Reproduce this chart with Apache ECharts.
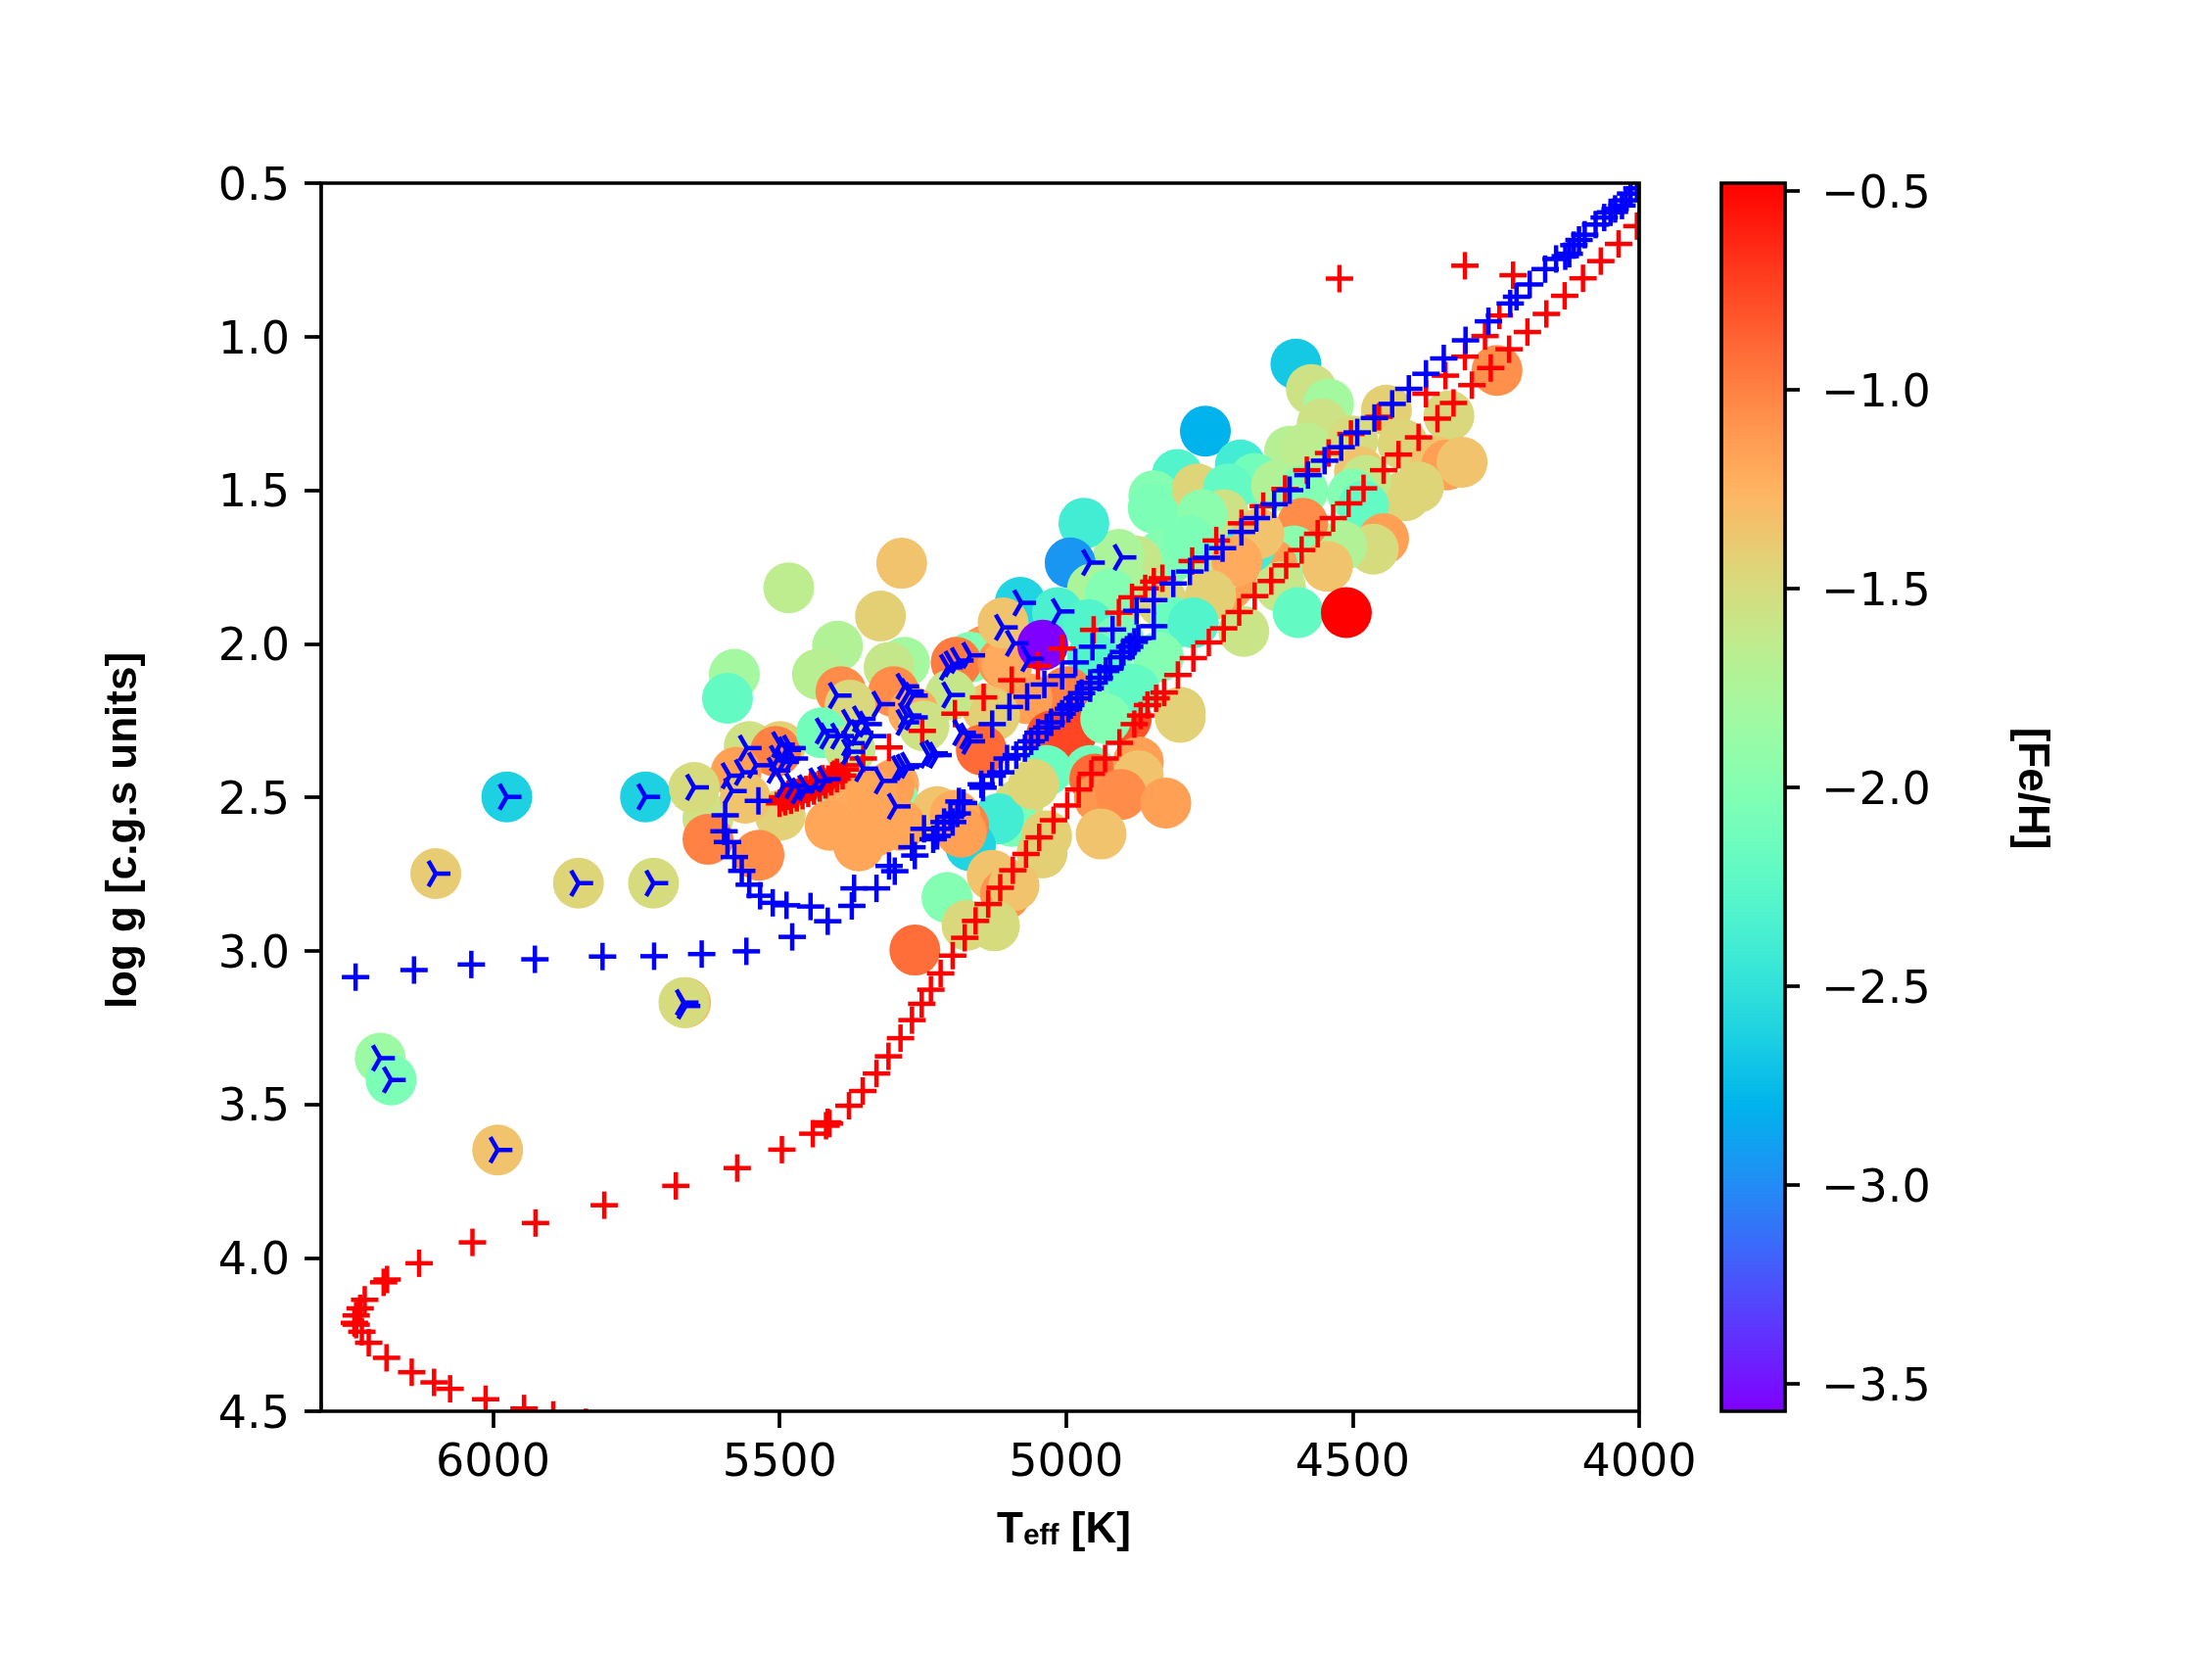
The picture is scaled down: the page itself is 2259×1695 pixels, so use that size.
<!DOCTYPE html>
<html>
<head>
<meta charset="utf-8">
<title>log g vs Teff</title>
<script src="https://cdn.jsdelivr.net/npm/echarts@6/dist/echarts.min.js"></script>
<style>
html,body{margin:0;padding:0;background:#fff;}
#chart{width:2259px;height:1695px;}
</style>
</head>
<body>
<div id="chart"></div>
<script>
// stars: Teff, log g, [Fe/H]
var starT = [4599,4572,4542,4441,4332,4248,4553,4757,4696,4806,4847,4848,4771,4610,4580,4500,4671,4717,4633,4587,4488,4412,4355,4336,4309,4385,4408,4477,4500,4481,4446,4464,4519,4587,4603,4641,4544,4626,4595,4511,4690,4717,4740,4725,4763,4679,4664,4702,4832,4816,4786,4877,4908,4969,4993,4954,4912,4900,4923,4832,4748,4809,4778,4839,4893,4931,4801,5080,5015,4961,5109,4908,4954,5106,5141,4999,5068,5137,5484,5287,5324,5399,5434,5579,5591,5282,5309,5167,5192,5110,5103,5110,5301,5393,5377,5202,5267,5248,5125,5553,5499,5507,5427,5377,5576,5650,5625,5499,5560,5625,5536,5392,5377,5301,5412,5362,5331,5301,5309,5339,5148,5026,4990,4895,4801,4881,4931,5034,4958,4950,4942,4874,4874,4904,4826,4939,5084,5095,5118,5167,5179,5225,5194,5183,5034,5042,5129,5106,5091,5208,5173,5125,5264,5289,5057,5976,5734,5649,6100,5851,5720,5664,5667,6197,6178,5992,5041];
var starG = [1.089,1.172,1.219,1.239,1.258,1.11,1.284,1.308,1.418,1.449,1.518,1.558,1.496,1.373,1.362,1.34,1.462,1.496,1.485,1.502,1.44,1.351,1.407,1.418,1.409,1.49,1.518,1.468,1.513,1.552,1.658,1.692,1.681,1.608,1.698,1.742,1.748,1.815,1.899,1.899,1.96,1.81,1.77,1.58,1.58,1.686,1.642,1.731,1.709,1.72,1.664,1.731,1.709,1.608,1.737,1.821,1.877,1.81,1.837,1.865,1.843,1.932,1.932,2.044,2.145,2.223,2.223,1.865,1.899,1.938,1.949,1.989,2.044,2.067,2.022,2.156,2.179,2.212,1.818,1.738,1.91,2.008,2.1,2.1,2.178,2.061,2.077,2.044,2.061,2.061,2.066,1.932,2.156,2.156,2.2,2.167,2.223,2.268,2.234,2.335,2.335,2.351,2.29,2.346,2.419,2.471,2.57,2.559,2.503,2.637,2.689,2.491,2.503,2.458,2.592,2.659,2.609,2.514,2.469,2.491,2.346,2.301,2.29,2.245,2.24,2.15,2.245,2.413,2.413,2.441,2.503,2.385,2.43,2.491,2.519,2.62,2.525,2.579,2.57,2.659,2.592,2.547,2.559,2.614,2.626,2.682,2.754,2.816,2.788,2.827,2.917,2.919,2.998,2.592,2.458,2.499,2.499,2.468,2.749,2.78,2.78,3.169,3.169,3.35,3.421,3.649,2.005];
var starFe = [-2.67,-1.56,-1.8,-1.42,-1.48,-1.07,-1.56,-2.8,-2.4,-2.3,-2,-2.05,-1.45,-1.7,-1.65,-1.5,-2.1,-2.2,-1.72,-2,-1.35,-1.45,-1.35,-1.15,-1.34,-1.45,-1.45,-1.6,-2,-2.2,-1.15,-1.5,-1.72,-1.05,-1.95,-1.15,-1.34,-1.6,-2.2,-0.48,-1.58,-1.15,-1.6,-1.55,-1.95,-2.4,-1.34,-1.2,-2,-2,-2.05,-1.6,-1.75,-2.4,-2.95,-1.75,-1.55,-1.75,-2,-1.45,-1.42,-2.15,-2.3,-2,-2.2,-2.05,-1.42,-2.6,-2.35,-2.3,-1.34,-2.05,-2.3,-1.25,-1.1,-1,-1.15,-1.34,-1.65,-1.34,-1.42,-1.72,-1.68,-1.8,-2.2,-1.8,-1.6,-2,-0.98,-1.1,-1.2,-1.35,-1.05,-1.05,-1.48,-1.6,-1.2,-1.55,-1.42,-1.55,-1.42,-1,-2.1,-1.6,-1.15,-1.5,-1.55,-1.43,-1.35,-1,-1.05,-2.15,-1.2,-1.2,-1.18,-1.18,-1.18,-2,-1.15,-1.18,-0.9,-0.8,-0.75,-0.8,-1.43,-2.2,-2,-2.15,-2.1,-0.9,-1.1,-1.15,-1.34,-1.05,-1.15,-1.34,-1.5,-2.05,-2.4,-2.6,-1,-1.34,-1.2,-1.15,-1.42,-1.42,-1.34,-1.1,-1.34,-2,-1.48,-1.5,-0.92,-1.18,-1.45,-2.62,-2.62,-1.5,-1.4,-1.45,-1.5,-1.3,-1.5,-1.85,-2.05,-1.34,-3.57];

// red isochrone
var redT = [5838,5895,5946,6013,6075,6103,6142,6186,6217,6229,6239,6242,6239,6232,6224,6191,6185,6129,6036,5926,5806,5681,5574,5496,5442,5419,5413,5416,5379,5355,5331,5310,5289,5269,5252,5236,5219,5198,5177,5158,5136,5115,5093,5070,5047,5022,4998,4978,4956,4932,4907,4881,4870,4858,4843,4829,4805,4778,4751,4725,4698,4671,4642,4616,4589,4561,4534,4507,4481,4446,4420,4385,4352,4324,4292,4259,4227,4195,4162,4130,4098,4067,4036,4004,4304,4523,4220,4244,4269,4304,4338,4372,4454,4503,4542,4580,4618,4656,4694,4738,4780,4832,4847,4862,4885,4908,4952,5007,5049,5095,5144,5194,5251,5309,5354,5385,5400,5415,5431,5446,5461,5476,5492,5408,5423,5439,5454,5469,5484,5495,5385,5490,5480,5470,5460,5450,5440,5430,5420,5410,5400,5390,5500,5485,5465,5445,5425,5405];
var redG = [4.536,4.512,4.491,4.461,4.427,4.406,4.373,4.326,4.277,4.241,4.218,4.212,4.188,4.165,4.137,4.08,4.071,4.018,3.95,3.887,3.829,3.766,3.708,3.648,3.596,3.57,3.563,3.559,3.505,3.457,3.4,3.344,3.285,3.226,3.173,3.127,3.074,3.016,2.958,2.903,2.848,2.795,2.738,2.685,2.631,2.575,2.527,2.475,2.424,2.374,2.323,2.262,2.234,2.2,2.178,2.159,2.102,2.047,1.996,1.95,1.897,1.845,1.796,1.745,1.695,1.642,1.591,1.543,1.494,1.435,1.384,1.328,1.267,1.216,1.158,1.102,1.041,0.985,0.926,0.867,0.81,0.754,0.698,0.64,0.769,0.811,0.8,0.931,0.998,1.065,1.127,1.186,1.261,1.317,1.379,1.435,1.496,1.552,1.608,1.664,1.731,1.787,1.798,1.82,1.849,1.899,1.955,2.016,2.072,2.119,2.175,2.228,2.284,2.338,2.374,2.396,2.419,2.441,2.458,2.469,2.48,2.491,2.503,2.43,2.45,2.463,2.475,2.485,2.497,2.5,2.41,2.515,2.51,2.502,2.495,2.488,2.48,2.47,2.46,2.45,2.44,2.43,2.52,2.49,2.475,2.46,2.44,2.425];

// blue isochrone
var blueT = [6240,6138,6038,5927,5809,5719,5636,5558,5478,5416,5374,5446,5488,5512,5534,5553,5566,5579,5591,5597,5595,5537,5370,5331,5299,5309,5264,5269,5232,5225,5213,5202,5190,5179,5145,5129,5114,5087,5061,5034,5007,4992,4973,4958,4942,4923,4904,4889,4874,4847,5129,5099,5068,5038,5007,4984,4954,4919,4877,4847,4813,4784,4755,4727,4694,4668,4637,4610,4578,4549,4520,4492,4462,4431,4402,4372,4341,4303,4263,4225,4214,4191,4164,4145,4129,4122,4114,4105,4095,4076,4061,4050,4042,4030,4023,4015,4004,5198,5225,5248,5187,5148,5103,5072,5049,5026,4996,4981,4958,4931,4900,4881];
var blueG = [3.086,3.063,3.045,3.028,3.019,3.018,3.011,3.002,2.955,2.904,2.854,2.856,2.852,2.844,2.821,2.785,2.74,2.695,2.646,2.611,2.559,2.512,2.797,2.797,2.741,2.724,2.69,2.663,2.637,2.603,2.581,2.564,2.553,2.519,2.469,2.43,2.419,2.363,2.318,2.273,2.228,2.2,2.161,2.128,2.111,2.077,2.044,2.01,1.982,1.943,2.262,2.206,2.173,2.133,2.105,2.061,2.01,1.954,1.893,1.858,1.804,1.765,1.72,1.689,1.636,1.591,1.546,1.5,1.451,1.404,1.36,1.312,1.265,1.219,1.17,1.121,1.071,1.012,0.95,0.892,0.87,0.83,0.78,0.747,0.738,0.73,0.702,0.685,0.668,0.635,0.612,0.595,0.584,0.573,0.556,0.534,0.517,2.581,2.626,2.603,2.514,2.458,2.374,2.34,2.29,2.256,2.212,2.178,2.145,2.089,2.027,1.994];

// stars marked with the three-armed symbol
var triT = [5976,5734,5649,6100,5851,5720,5667,5664,6197,6178,5992,4958,4903,5078,5011,5110,5091,5064,5167,5187,5198,5206,5202,5400,5324,5282,5274,5267,5278,5267,5282,5423,5415,5377,5358,5347,5396,5377,5362,5339,5183,5171,5167,5377,5557,5499,5488,5480,5503,5507,5492,5476,5541,5587,5564,5583,5354,5320,5290,5282,5274,5240,5232,5225,5297,5476,5453,5434,5419,5492,5465];
var triG = [2.499,2.499,2.468,2.749,2.78,2.78,3.169,3.18,3.35,3.421,3.649,1.736,1.719,1.867,1.895,1.947,1.999,2.049,2.038,2.055,2.066,2.077,2.167,2.169,2.197,2.139,2.156,2.169,2.234,2.24,2.256,2.284,2.301,2.256,2.245,2.262,2.301,2.324,2.29,2.301,2.29,2.301,2.318,2.352,2.34,2.329,2.346,2.34,2.374,2.413,2.385,2.374,2.396,2.43,2.419,2.48,2.407,2.447,2.407,2.402,2.396,2.363,2.357,2.363,2.53,2.463,2.469,2.447,2.441,2.46,2.48];

var xTicks = [4000,4500,5000,5500,6000];
var xMin = 4000, xMax = 6300;
var gMin = 0.5, gMax = 4.5;
var feMin = -3.569, feMax = -0.48;
// matplotlib rainbow, sampled every 1/16
var rainbow = ['#8000ff','#6032fe','#4062fa','#208ef4','#00b4ec','#20d4e1','#40ecd4','#60fac5','#80ffb4','#9ffaa2','#bfec8e','#dfd478','#ffb462','#ff8e4a','#ff6232','#ff3219','#ff0000'];

function zipPts(a, b, c) {
    var out = [];
    for (var i = 0; i < a.length; i++) {
        out.push(c ? [a[i], b[i], c[i]] : [a[i], b[i]]);
    }
    return out;
}
function armLine(p, dx, dy, color) {
    return {type: 'line', shape: {x1: p[0], y1: p[1], x2: p[0] + dx, y2: p[1] + dy}, style: {stroke: color, lineWidth: 4.5}};
}
// custom series so the markers get cut at the axes frame
function markerSeries(pts, arms, color, z) {
    return {
        type: 'custom', xAxisIndex: 0, yAxisIndex: 0, clip: true, z: z, data: pts,
        encode: {x: 0, y: 1},
        renderItem: function (params, api) {
            var p = api.coord([api.value(0), api.value(1)]);
            var kids = [];
            for (var i = 0; i < arms.length; i++) {
                kids.push(armLine(p, arms[i][0], arms[i][1], color));
            }
            return {type: 'group', children: kids};
        }
    };
}
var plusArms = [[14, 0], [-14, 0], [0, 14], [0, -14]];
var triArms = [[15, 0], [-7.5, 13], [-7.5, -13]];

var tickFont = {fontFamily: 'DejaVu Sans', fontSize: 46, color: '#000'};
var labelFont = 'bold 44px "Liberation Sans"';

var chart = echarts.init(document.getElementById('chart'));
var option = {
    animation: false,
    backgroundColor: '#fff',
    grid: [
        {left: 328, width: 1346, top: 187, height: 1254, show: true, borderColor: '#000', borderWidth: 3.7, z: 10, backgroundColor: 'transparent'},
        {left: 1758, width: 65, top: 187, height: 1254, show: true, borderColor: '#000', borderWidth: 3.7, z: 10, backgroundColor: 'transparent'},
        // ticks of the colour bar: -0.5 to -3.5 only
        {left: 1758, width: 65, top: 195, height: 1218}
    ],
    xAxis: [
        {
            type: 'value', gridIndex: 0, min: xMin, max: xMax, inverse: true,
            splitLine: {show: false},
            axisLine: {show: false},
            axisTick: {length: 17, customValues: xTicks, lineStyle: {color: '#000', width: 3.7}},
            axisLabel: Object.assign({margin: 31, customValues: xTicks, formatter: function (v) { return String(v); }}, tickFont)
        },
        {type: 'value', gridIndex: 1, min: 0, max: 1, show: false},
        {type: 'value', gridIndex: 2, min: 0, max: 1, show: false}
    ],
    yAxis: [
        {
            type: 'value', gridIndex: 0, min: gMin, max: gMax, interval: 0.5, inverse: true,
            splitLine: {show: false},
            axisLine: {show: false},
            axisTick: {length: 17, lineStyle: {color: '#000', width: 3.7}},
            axisLabel: Object.assign({margin: 32, verticalAlign: 'top', lineHeight: 10, formatter: function (v) { return v.toFixed(1); }}, tickFont)
        },
        {type: 'value', gridIndex: 1, min: 0, max: 1, show: false},
        {
            type: 'value', gridIndex: 2, position: 'right', min: -3.5, max: -0.5, interval: 0.5,
            splitLine: {show: false},
            axisLine: {show: false, onZero: false},
            axisTick: {length: 15, lineStyle: {color: '#000', width: 3.7}},
            axisLabel: Object.assign({margin: 37, verticalAlign: 'top', lineHeight: 10, formatter: function (v) { return v.toFixed(1).replace('-', '\u2212'); }}, tickFont)
        }
    ],
    visualMap: {
        type: 'continuous', seriesIndex: 0, dimension: 2,
        min: feMin, max: feMax,
        left: 1758, top: 187, itemWidth: 65, itemHeight: 1254, padding: 0,
        calculable: false, hoverLink: false, text: null,
        inRange: {color: rainbow}
    },
    series: [
        {type: 'scatter', xAxisIndex: 0, yAxisIndex: 0, symbol: 'circle', symbolSize: 52, itemStyle: {opacity: 1}, data: zipPts(starT, starG, starFe), z: 2},
        markerSeries(zipPts(redT, redG), plusArms, '#ff0000', 3),
        markerSeries(zipPts(triT, triG), triArms, '#0000ff', 4),
        markerSeries(zipPts(blueT, blueG), plusArms, '#0000ff', 5)
    ],
    graphic: [
        {type: 'text', left: 1018, top: 1541, style: {
            text: '{b|T}{s|eff}{b| [K]}',
            rich: {
                b: {font: labelFont, fill: '#000'},
                s: {font: 'bold 30px "Liberation Sans"', fill: '#000', padding: [12, 0, 0, 0]}
            }
        }},
        {type: 'text', x: 127, y: 848, rotation: Math.PI / 2, style: {
            text: 'log g [c.g.s units]', font: labelFont, fill: '#000', align: 'center', verticalAlign: 'middle'
        }},
        {type: 'text', x: 2074, y: 805, rotation: -Math.PI / 2, style: {
            text: '[Fe/H]', font: labelFont, fill: '#000', align: 'center', verticalAlign: 'middle'
        }}
    ]
};
chart.setOption(option);
</script>
</body>
</html>
